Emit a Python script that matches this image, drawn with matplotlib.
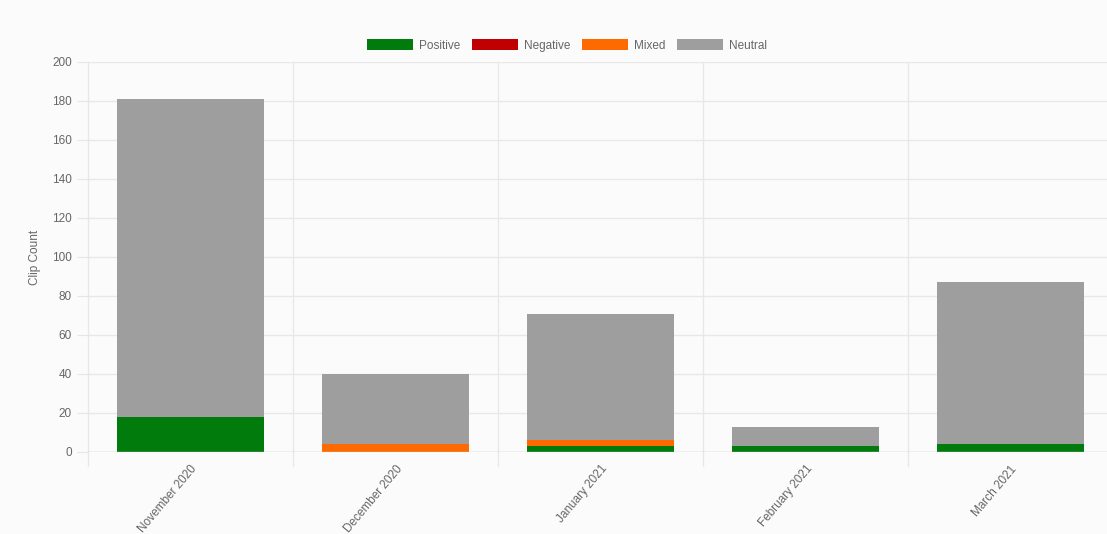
import matplotlib
matplotlib.use("Agg")
import matplotlib.pyplot as plt
import numpy as np

months = ["November 2020", "December 2020", "January 2021", "February 2021", "March 2021"]
positive = [18, 0, 3, 3, 4]
negative = [0, 0, 0, 0, 0]
mixed = [0, 4, 3, 0, 0]
neutral = [163, 36, 65, 10, 83]

series = [("Positive", positive, "#007b0c"),
          ("Negative", negative, "#c00000"),
          ("Mixed", mixed, "#ff6a00"),
          ("Neutral", neutral, "#9e9e9e")]

plt.rcParams['font.family'] = ['Liberation Sans', 'DejaVu Sans']
fig = plt.figure(figsize=(11.07, 5.34), dpi=100)
fig.patch.set_facecolor("#fbfbfb")
ax = fig.add_axes([0.0795, 0.1536, 0.926, 0.7303])
ax.set_facecolor("#fbfbfb")

x = np.arange(len(months))
bottom = np.zeros(len(months))
handles = []
for name, vals, col in series:
    h = ax.bar(x, vals, width=0.72, bottom=bottom, color=col, label=name, zorder=3)
    bottom += np.array(vals)
    handles.append(h)

ax.set_ylim(0, 200)
ax.set_yticks(np.arange(0, 201, 20))
ax.set_xlim(-0.5, 4.5)
ax.set_xticks(x)
ax.set_xticklabels(months, rotation=50, ha="right", rotation_mode="anchor", fontsize=8.5, color="#666666")
ax.tick_params(axis="y", labelsize=8.5, labelcolor="#666666", length=8, color="#e6e6e6")
ax.tick_params(axis="x", length=0, pad=8)
for v in np.arange(0, 201, 20):
    ax.axhline(v, color="#e8e8e8", lw=1, zorder=1)
for b in np.arange(-0.5, 4.6, 1.0):
    ax.plot([b, b], [0, 200], color="#e8e8e8", lw=1, zorder=1, clip_on=False)
    ax.plot([b, b], [0, -7], color="#e8e8e8", lw=1, zorder=1, clip_on=False)
for s in ax.spines.values():
    s.set_visible(False)
ax.axhline(0, color="#cccccc", lw=1, zorder=4)
ax.set_ylabel("Clip Count", fontsize=8.5, color="#666666", labelpad=8)

fig.legend(handles=handles, loc="upper center", bbox_to_anchor=(0.512, 0.947), ncol=4,
           frameon=False, fontsize=8.5, handlelength=3.9, handleheight=1.1,
           columnspacing=1.0, handletextpad=0.5, labelcolor="#666666")

fig.savefig("out.png", dpi=100, facecolor=fig.get_facecolor())
